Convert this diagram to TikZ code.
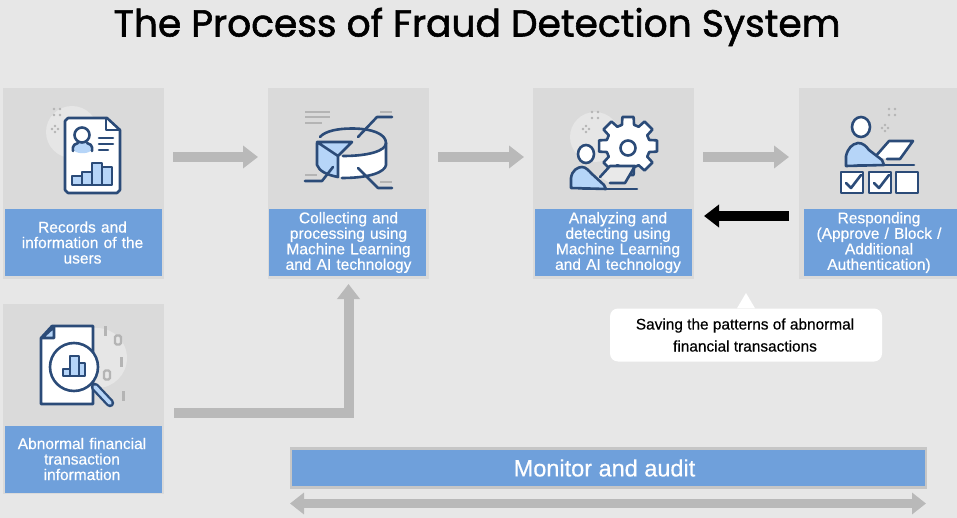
\documentclass[tikz,border=0pt]{standalone}
\usepackage{fontspec}
\setmainfont{Liberation Sans}
\newfontfamily\titlefont[FakeBold=1.5]{Poppins}
\newfontfamily\capfont[FakeBold=0.5]{Liberation Sans}
\usetikzlibrary{arrows.meta,calc}
\definecolor{bgc}{HTML}{E7E7E7}
\definecolor{panelc}{HTML}{DADADA}
\definecolor{bluec}{HTML}{6FA0DB}
\definecolor{arrc}{HTML}{B9B9B9}
\definecolor{navy}{HTML}{2B4B78}
\definecolor{lightb}{HTML}{B6D5F8}
\definecolor{halo}{HTML}{E6E6E6}
\definecolor{spk}{HTML}{B4B4B4}
\tikzset{
 panel/.style={fill=panelc,draw=none,inner sep=0,outer sep=0,minimum width=161pt,minimum height=191pt},
 caption/.style={fill=bluec,draw=none,inner sep=0,outer sep=0,text=white,align=center,text width=157pt,minimum height=67pt,font=\capfont\fontsize{15.5}{15.5}\selectfont},
 grayarrow/.style={draw=arrc,line width=10pt,-{Triangle[length=15pt,width=22pt,fill=arrc]}},
 blackarrow/.style={draw=black,line width=10pt,-{Triangle[length=15pt,width=22pt,fill=black]}},
 ico/.style={draw=navy,line width=2.6pt,line join=round,line cap=round},
 thin ico/.style={draw=spk,line width=1.8pt},
}
\newcommand{\spark}[2]{\fill[spk] (#1-3,#2-3) circle (1.3) (#1+3,#2-3) circle (1.3) (#1-3,#2+3) circle (1.3) (#1+3,#2+3) circle (1.3);}
\newcommand{\sparkd}[2]{\fill[spk] (#1,#2-3) circle (1.3) (#1,#2+3) circle (1.3) (#1-3,#2) circle (1.3) (#1+3,#2) circle (1.3);}
\begin{document}
\begin{tikzpicture}[x=1pt,y=-1pt]
\useasboundingbox (0,0) rectangle (957,518);
\fill[bgc] (0,0) rectangle (957,518);
\node[font=\titlefont\fontsize{37.6}{40}\selectfont] (title) at (477,27) {The Process of Fraud Detection System};
% panels
\node[panel] (p1) at (83.5,183.5) {};
\node[panel] (p2) at (348.5,183.5) {};
\node[panel] (p3) at (613.5,183.5) {};
\node[panel,minimum width=158pt] (p4) at (878,183.5) {};
\node[panel,minimum height=190pt] (p5) at (83.5,399) {};
\node[caption] (c1) at (83.5,242.5) {\raisebox{-1pt}{\hspace{-2pt}\parbox{157pt}{\centering Records and\\information of the\\users}}};
\node[caption] (c2) at (347.5,242.5) {\raisebox{-3.5pt}{\hspace{1pt}\parbox{157pt}{\centering Collecting and\\processing using\\Machine Learning\\and AI technology}}};
\node[caption] (c3) at (613,242.5) {\raisebox{-3.5pt}{\hspace{5pt}\parbox{157pt}{\centering Analyzing and\\detecting using\\Machine Learning\\and AI technology}}};
\node[caption,text width=153pt] (c4) at (880.5,242.5) {\raisebox{-3.5pt}{\hspace{-3pt}\parbox{153pt}{\centering Responding\\(Approve / Block /\\Additional\\Authentication)}}};
\node[caption] (c5) at (83.5,459) {\raisebox{-1pt}{\hspace{-3pt}\parbox{157pt}{\centering Abnormal financial\\transaction\\information}}};
% arrows
\coordinate (rowa) at (0,157);
\coordinate (rowb) at (0,216);
\coordinate (rowc) at (0,413);
\draw[grayarrow] ([xshift=9pt]p1.east |- rowa) -- ([xshift=-10pt]p2.west |- rowa);
\draw[grayarrow] ([xshift=9pt]p2.east |- rowa) -- ([xshift=-9pt]p3.west |- rowa);
\draw[grayarrow] ([xshift=9pt]p3.east |- rowa) -- ([xshift=-10pt]p4.west |- rowa);
\draw[blackarrow] ([xshift=-10pt]p4.west |- rowb) -- ([xshift=10pt]p3.east |- rowb);
\draw[grayarrow] ([xshift=10pt]p5.east |- rowc) -| ([yshift=-5pt]p2.south);
% callout
\node[fill=white,rounded corners=8pt,inner sep=0,minimum width=272pt,minimum height=53pt,align=center,font=\capfont\fontsize{15.4}{22}\selectfont,text=black] (save) at (746,335) {\raisebox{-0.5pt}{\hspace{-2pt}\parbox{272pt}{\centering\fontsize{15.4}{22}\selectfont Saving the patterns of abnormal\\financial transactions}}};
\coordinate (savetip) at (746,293);
\fill[white] ([xshift=-9pt]save.north) -- (savetip) -- ([xshift=9pt]save.north) -- cycle;
% monitor
\node[fill=bluec,draw=arrc!60!panelc,line width=2.5pt,inner sep=0,minimum width=635pt,minimum height=39pt,text=white,font=\capfont\fontsize{23.5}{24}\selectfont] (mon) at (608.5,468) {\hspace{-8pt}Monitor and audit};
\coordinate (dl) at (290,503.5);
\coordinate (dr) at (926,503.5);
\draw[draw=arrc,line width=9pt,{Triangle[length=14pt,width=21pt,fill=arrc]}-{Triangle[length=14pt,width=21pt,fill=arrc]}] (dl) -- (dr);
% ---------- icon 1
\fill[halo] (72,132) circle (26);
\spark{57}{112}\sparkd{55}{129}
\draw[ico,fill=white] (65,121) -- (65,190) -- (68,193) -- (117,193) -- (120,190) -- (120,130) -- (107,118) -- (68,118) -- cycle;
\draw[ico] (106,119) -- (106,130) -- (119,130);
\fill[lightb] (73,148) .. controls (73,140) and (92,140) .. (92,148) .. controls (92,155) and (73,155) .. (73,148) -- cycle;
\draw[ico] (82,135) circle (7.5);
\draw[ico] (73,151) .. controls (72,144) and (76,144) .. (78,143) (92,151) .. controls (93,144) and (89,144) .. (87,143);
\draw[ico] (99,138) -- (113,138) (99,144) -- (113,144) (99,150) -- (108,150);
\foreach \a/\b/\t in {72/82/176,82/92/172,92/102/163,102/112/167}{\draw[ico,fill=lightb] (\a,185) rectangle (\b,\t);}
% ---------- icon 2
\foreach \a/\b/\c in {305/330/112,305/330/117,305/322/123,380/392/112,305/317/175,380/392/182}{\draw[thin ico] (\a,\c) -- (\b,\c);}
\fill[white] (317,143) -- (317,165) .. controls (322,175) and (340,178) .. (352,178) .. controls (372,178) and (386,172) .. (386,165) -- (386,143) arc (0:180:34.5 and 14);
\fill[lightb] (317,142) -- (352,142) -- (338,156) -- (338,177) -- (320,170) -- (317,165) -- cycle;
\draw[ico] (317,143) -- (317,165) .. controls (319,171) and (327,175) .. (338,177) -- (338,156) -- (317,142) -- (352,142) -- (338,156);
\draw[ico] (320,137) .. controls (325,131) and (338,128.5) .. (352,128.5) .. controls (372,128.5) and (386,134) .. (386,143) .. controls (386,151) and (368,156) .. (343,156);
\draw[ico] (386,143) -- (386,165) .. controls (385,172) and (370,178) .. (342,178);
\draw[ico] (358,137) -- (377,117) -- (392,117) (305,181) -- (322,181) -- (333,167) (358,168) -- (378,188) -- (392,188);
% ---------- icon 3
\fill[halo] (595,137) circle (25);
\spark{595}{115}\sparkd{586}{129}
\draw[ico,fill=white,shift={(628,146)}] (-11:29.5)
 \foreach \i in {0,45,...,315}{ -- ({\i-11}:29.5) -- ({\i+11}:29.5) -- ({\i+16}:22) -- ({\i+29}:22) }  -- cycle;
\draw[ico] (628,148) circle (7.5);
\draw[ico,fill=panelc!60!white] (600,177) -- (610,166) -- (635,166) -- (625,183) -- (610,183);
\draw[ico,fill=lightb] (571,188) -- (571,178) .. controls (572,170) and (578,167) .. (582,167) .. controls (586,167) and (589,171) .. (592,174) -- (604,185) -- (606,189) -- cycle;
\draw[ico,fill=white] (586,154) ellipse (8 and 9);
\draw[ico] (583,189) -- (637,189);
% ---------- icon 4
\spark{892}{112}\sparkd{885}{128}
\draw[ico,fill=white] (875,157) -- (889,141) -- (913,141) -- (900,159) -- (887,159);
\draw[ico,fill=lightb] (846,166) -- (846,156) .. controls (848,148) and (852,144) .. (858,143) .. controls (863,143) and (866,146) .. (869,150) -- (882,160) -- (884,165) -- cycle;
\draw[ico,fill=white] (861,127) ellipse (9 and 10);
\draw[ico] (858,165) -- (914,165);
\foreach \x in {841,869,896}{\draw[ico,fill=white] (\x,172) rectangle ++(22,21);}
\draw[ico] (846,183) -- (851,188) -- (861,175);
\draw[ico] (874,183) -- (879,188) -- (889,175);
% ---------- icon 5
\fill[halo] (97,358) circle (30);
\foreach \x/\y/\h in {105/331/5,121/362/5,123/396/5}{\fill[spk] (\x-1.5,\y-\h) rectangle (\x+1.5,\y+\h);}
\foreach \x/\y in {118/340,107/375}{\draw[spk,line width=2.2pt,rounded corners=1.5pt] (\x-3,\y-4.5) rectangle (\x+3,\y+4.5);}
\draw[ico,fill=white] (41,338) -- (52,326) -- (93,326) -- (93,404) -- (41,404) -- cycle;
\draw[ico,fill=lightb] (42,338) -- (54,338) -- (54,327) -- cycle;
\draw[line width=8.5pt,navy,line cap=round] (95,387) -- (110,403);
\draw[line width=3.8pt,lightb,line cap=round] (95,387) -- (110,403);
\draw[ico,fill=white] (74,367) circle (24);
\foreach \a/\b/\t in {63/70/369,70/79/356,79/85/363}{\draw[ico,fill=lightb] (\a,376) rectangle (\b,\t);}
\end{tikzpicture}
\end{document}
